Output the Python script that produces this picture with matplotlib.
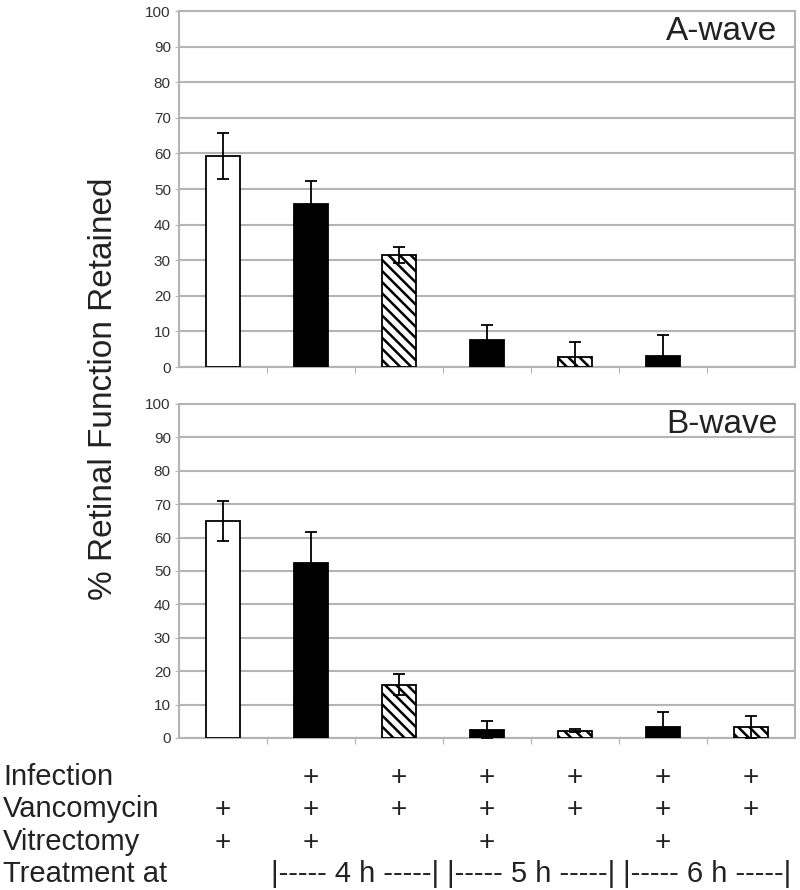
import numpy as np
import matplotlib
matplotlib.use('Agg')
import matplotlib.pyplot as plt
from matplotlib.transforms import blended_transform_factory

plt.rcParams['font.family'] = ['Liberation Sans', 'DejaVu Sans']
plt.rcParams['hatch.linewidth'] = 1.8

# data
a_vals = [59.3, 45.7, 31.5, 7.6, 2.8, 3.2, 0]
a_err = [6.5, 6.5, 2.2, 4.2, 4.3, 5.8, 0]
b_vals = [65.0, 52.3, 16.0, 2.3, 2.2, 3.2, 3.2]
b_err = [6.0, 9.3, 3.2, 2.7, 0.4, 4.6, 3.3]
styles = ['white', 'black', 'hatch', 'black', 'hatch', 'black', 'hatch']

row_names = ['Infection', 'Vancomycin', 'Vitrectomy', 'Treatment at']
infection = [0, 1, 1, 1, 1, 1, 1]
vancomycin = [1, 1, 1, 1, 1, 1, 1]
vitrectomy = [1, 1, 0, 1, 0, 1, 0]
time_labels = ['|----- 4 h -----|', '|----- 5 h -----|', '|----- 6 h -----|']
time_groups = [(1, 2), (3, 4), (5, 6)]

x = np.arange(len(a_vals))
grid_col = '#b4b4b4'
txt_col = '#222222'


def draw_panel(ax, vals, err, title):
    for i in range(len(vals)):
        if vals[i] <= 0:
            continue
        if styles[i] == 'white':
            ax.bar(x[i], vals[i], 0.39, color='white', edgecolor='black', linewidth=1.3, zorder=3)
        elif styles[i] == 'black':
            ax.bar(x[i], vals[i], 0.39, color='black', edgecolor='black', linewidth=1.3, zorder=3)
        else:
            ax.bar(x[i], vals[i], 0.39, color='white', edgecolor='black', hatch='\\\\\\',
                   linewidth=1.3, zorder=3)
        if err[i] > 0:
            ax.errorbar(x[i], vals[i], yerr=err[i], fmt='none', ecolor='black',
                        elinewidth=1.3, capsize=4, capthick=1.3, zorder=4)
    ax.set_xlim(-0.5, 6.5)
    ax.set_ylim(0, 100)
    ax.set_yticks(np.arange(0, 101, 10))
    ax.set_xticks(np.arange(0.5, 6.5, 1))
    ax.set_xticklabels([])
    ax.yaxis.grid(True, color=grid_col, linewidth=1.5, zorder=0)
    ax.set_axisbelow(True)
    for s in ax.spines.values():
        s.set_color(grid_col)
        s.set_linewidth(1.5)
    ax.tick_params(axis='y', length=3, color=grid_col, labelsize=11, labelcolor='#333333', pad=3)
    ax.tick_params(axis='x', length=4, color=grid_col)
    ax.text(0.971, 0.985, title, transform=ax.transAxes, ha='right', va='top',
            fontsize=24, color=txt_col)


fig = plt.figure(figsize=(8, 8.9), dpi=100)
ax1 = fig.add_axes([0.224, 0.5876, 0.77, 0.4])
ax2 = fig.add_axes([0.224, 0.1708, 0.77, 0.3753])

draw_panel(ax1, a_vals, a_err, 'A-wave')
draw_panel(ax2, b_vals, b_err, 'B-wave')

fig.text(0.13, 0.563, '% Retinal Function Retained', rotation=90, ha='center', va='center',
         fontsize=24, color=txt_col)

# treatment table under the chart
row_y = [0.118, 0.082, 0.0449, 0.009]
trans = blended_transform_factory(ax2.transData, fig.transFigure)
for name, yy in zip(row_names, row_y):
    fig.text(0.004, yy, name, ha='left', va='baseline', fontsize=21, color=txt_col)
for flags, yy in zip([infection, vancomycin, vitrectomy], row_y[:3]):
    for i, f in enumerate(flags):
        if f:
            ax2.text(x[i], yy, '+', transform=trans, ha='center', va='baseline',
                     fontsize=20, color=txt_col, clip_on=False)
for lab, (g0, g1) in zip(time_labels, time_groups):
    ax2.text((x[g0] + x[g1]) / 2, row_y[3], lab, transform=trans, ha='center', va='baseline',
             fontsize=21, color=txt_col, clip_on=False)

fig.savefig('out.png', dpi=100)
